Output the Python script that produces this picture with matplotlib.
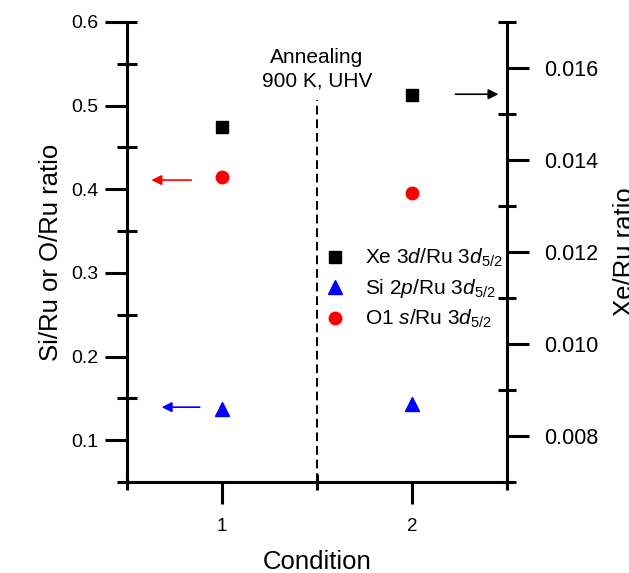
import numpy as np
import matplotlib
matplotlib.use("Agg")
import matplotlib.pyplot as plt
from matplotlib.ticker import FixedLocator
from matplotlib.lines import Line2D

# -------------------- DATA --------------------
condition = [1, 2]
xe_ru = [0.01471, 0.01541]   # right axis
si_ru = [0.137, 0.143]       # left axis
o_ru = [0.415, 0.396]        # left axis

labels = [r"Xe 3$d$/Ru 3$d_{\mathit{5/2}}$",
          r"Si 2$p$/Ru 3$d_{\mathit{5/2}}$",
          r"O1 $s$/Ru 3$d_{\mathit{5/2}}$"]

# -------------------- STYLE --------------------
plt.rcParams['font.family'] = ['Liberation Sans', 'DejaVu Sans']
plt.rcParams['mathtext.fontset'] = 'custom'
plt.rcParams['mathtext.rm'] = 'Liberation Sans'
plt.rcParams['mathtext.it'] = 'Liberation Sans:italic'
plt.rcParams['font.size'] = 14

LW = 2.2

fig = plt.figure(figsize=(6.29, 5.73), dpi=100)
ax = fig.add_axes([126.5 / 629, 1 - 482 / 573, (507 - 126.5) / 629, 460 / 573])
ax2 = ax.twinx()

ax.set_xlim(0.5, 2.5)
ax.set_ylim(0.05, 0.6)
ax2.set_ylim(0.007, 0.017)

# points
ax.plot(condition, si_ru, linestyle='none', marker='^', ms=10, color='#0000ff')
ax.plot(condition, o_ru, linestyle='none', marker='o', ms=9, color='#ff0000')
ax2.plot(condition, xe_ru, linestyle='none', marker='s', ms=8, color='black')

# annealing divider
ax.axvline(1.5, ymin=0, ymax=0.83, color='black', lw=1.4, ls=(0, (4.5, 2.5)))
ax.text(1.5, 0.569, "Annealing\n900 K, UHV", ha='center', va='top',
        fontsize=15, linespacing=1.3)

# arrows pointing to the relevant axis
arrow_kw = dict(arrowstyle='-|>', lw=1.2, mutation_scale=15, shrinkA=0, shrinkB=0)
ax.annotate("", xy=(0.631, o_ru[0] - 0.004), xytext=(0.841, o_ru[0] - 0.004),
            arrowprops=dict(color='#ff0000', **arrow_kw))
ax.annotate("", xy=(0.685, si_ru[0] + 0.0025), xytext=(0.885, si_ru[0] + 0.0025),
            arrowprops=dict(color='#0000ff', **arrow_kw))
ax2.annotate("", xy=(2.455, xe_ru[1] + 0.00002), xytext=(2.229, xe_ru[1] + 0.00002),
             arrowprops=dict(color='black', **arrow_kw))

# spines
for a in (ax, ax2):
    a.spines['top'].set_visible(False)
    for s in a.spines.values():
        s.set_linewidth(LW)
ax.spines['right'].set_visible(False)
ax2.spines['left'].set_visible(False)
ax2.spines['bottom'].set_visible(False)

# ticks
ax.set_xticks([1, 2])
ax.xaxis.set_minor_locator(FixedLocator([0.5, 1.5, 2.5]))
ax.set_yticks([0.1, 0.2, 0.3, 0.4, 0.5, 0.6])
ax.set_yticklabels(["0.1", "0.2", "0.3", "0.4", "0.5", "0.6"])
ax.yaxis.set_minor_locator(FixedLocator([0.05, 0.15, 0.25, 0.35, 0.45, 0.55, 0.6]))
ax.yaxis.remove_overlapping_locs = False
ax2.set_yticks([0.008, 0.010, 0.012, 0.014, 0.016])
ax2.set_yticklabels(["0.008", "0.010", "0.012", "0.014", "0.016"])
ax2.yaxis.set_minor_locator(FixedLocator([0.007, 0.009, 0.011, 0.013, 0.015, 0.017]))

ax.tick_params(axis='x', which='major', direction='out', length=15.5, width=LW,
               labelsize=13.5, pad=10.5)
ax.tick_params(axis='x', which='minor', direction='inout', length=11, width=LW)
ax.tick_params(axis='y', which='major', direction='out', length=15.5, width=LW,
               labelsize=14, pad=4.5)
ax.tick_params(axis='y', which='minor', direction='inout', length=14, width=LW)
ax2.tick_params(axis='y', which='major', direction='out', length=16, width=LW,
                labelsize=15.5, pad=11)
ax2.tick_params(axis='y', which='minor', direction='inout', length=13, width=LW)

# axis labels
ax.set_xlabel("Condition", fontsize=18.5)
ax.xaxis.set_label_coords(0.5, -0.148)
ax.set_ylabel("Si/Ru or O/Ru ratio", fontsize=18.5)
ax.yaxis.set_label_coords(-0.168, 0.5)
ax2.set_ylabel("Xe/Ru ratio", fontsize=18.5)
ax2.yaxis.set_label_coords(1.278, 0.5)

# legend
handles = [
    Line2D([], [], linestyle='none', marker='s', ms=8, color='black'),
    Line2D([], [], linestyle='none', marker='^', ms=10, color='#0000ff'),
    Line2D([], [], linestyle='none', marker='o', ms=9, color='#ff0000'),
]
ax.legend(handles, labels, loc='upper left', bbox_to_anchor=(327 / 629, 1 - 247 / 573),
          bbox_transform=fig.transFigure, frameon=False, borderpad=0, borderaxespad=0,
          handlelength=0.77, handletextpad=1.05, labelspacing=0.38, fontsize=15)

fig.savefig("out.png", dpi=100)
